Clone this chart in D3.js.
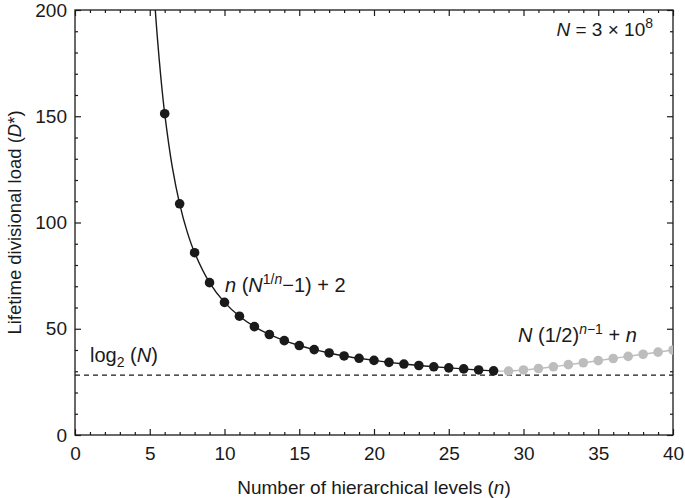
<!DOCTYPE html>
<html>
<head>
<meta charset="utf-8">
<script src="https://cdn.jsdelivr.net/npm/d3@7"></script>
<style>
  body { margin: 0; background: #fff; }
  svg text { font-family: "Liberation Sans", Arial, sans-serif; fill: #1a1a1a; }
</style>
</head>
<body>
<div id="chart"></div>
<script>
let width = 685;
let height = 498;
let margin = {top: 10, right: 12, bottom: 63, left: 75};

// hierarchical levels shown as black dots and their load
let blackN = [6, 7, 8, 9, 10, 11, 12, 13, 14, 15, 16, 17, 18, 19, 20, 21, 22, 23, 24, 25, 26, 27, 28];
let blackD = [151.2, 108.8, 85.8, 71.7, 62.4, 55.9, 51.0, 47.3, 44.4, 42.1, 40.2, 38.6, 37.2, 36.1,
              35.1, 34.2, 33.4, 32.7, 32.1, 31.6, 31.1, 30.6, 30.2];
// extra points for the smooth curve above n = 6
let curveN = [5.35, 5.5, 5.75, 6.5, 7.5];
let curveD = [202, 187.8, 167.7, 126.4, 95.7];

// grey dots
let greyN = [29, 30, 31, 32, 33, 34, 35, 36, 37, 38, 39, 40];
let greyD = [30.1, 30.6, 31.3, 32.1, 33.1, 34.0, 35.0, 36.0, 37.0, 38.0, 39.0, 40.0];

let log2N = 28.16;
let xTicks = [0, 5, 10, 15, 20, 25, 30, 35, 40];
let yTicks = [0, 50, 100, 150, 200];

let svg = d3.select("#chart").append("svg")
  .attr("width", width)
  .attr("height", height);

let x = d3.scaleLinear().domain([0, 40]).range([margin.left, width - margin.right]);
let y = d3.scaleLinear().domain([0, 200]).range([height - margin.bottom, margin.top]);

svg.append("clipPath").attr("id", "clip")
  .append("rect")
  .attr("x", x(0)).attr("y", y(200))
  .attr("width", x(40) - x(0)).attr("height", y(0) - y(200));

// frame
svg.append("rect")
  .attr("x", x(0)).attr("y", y(200))
  .attr("width", x(40) - x(0)).attr("height", y(0) - y(200))
  .attr("fill", "none").attr("stroke", "#1a1a1a").attr("stroke-width", 1.3);

// ticks on all four sides, pointing inward
function drawTicks(g, axis) {
  g.call(axis);
  g.select(".domain").remove();
  g.selectAll("line").attr("stroke", "#1a1a1a").attr("stroke-width", 1.2);
}
let minorX = d3.range(0, 41, 1).filter(d => d % 5 !== 0);
let minorY = d3.range(0, 201, 10).filter(d => d % 50 !== 0);

let axBottom = svg.append("g").attr("transform", "translate(0," + y(0) + ")");
drawTicks(axBottom.append("g"), d3.axisBottom(x).tickValues(xTicks).tickSize(-6).tickPadding(12));
drawTicks(axBottom.append("g"), d3.axisBottom(x).tickValues(minorX).tickSize(-3).tickFormat(""));
axBottom.selectAll("text").attr("font-size", 19).attr("dy", "0.71em");

let axTop = svg.append("g").attr("transform", "translate(0," + y(200) + ")");
drawTicks(axTop.append("g"), d3.axisTop(x).tickValues(xTicks).tickSize(-6).tickFormat(""));
drawTicks(axTop.append("g"), d3.axisTop(x).tickValues(minorX).tickSize(-3).tickFormat(""));

let axLeft = svg.append("g").attr("transform", "translate(" + x(0) + ",0)");
drawTicks(axLeft.append("g"), d3.axisLeft(y).tickValues(yTicks).tickSize(-6).tickPadding(8));
drawTicks(axLeft.append("g"), d3.axisLeft(y).tickValues(minorY).tickSize(-3).tickFormat(""));
axLeft.selectAll("text").attr("font-size", 19);

let axRight = svg.append("g").attr("transform", "translate(" + x(40) + ",0)");
drawTicks(axRight.append("g"), d3.axisRight(y).tickValues(yTicks).tickSize(-6).tickFormat(""));
drawTicks(axRight.append("g"), d3.axisRight(y).tickValues(minorY).tickSize(-3).tickFormat(""));

// log2(N) dashed line
svg.append("line")
  .attr("x1", x(0)).attr("x2", x(40))
  .attr("y1", y(log2N)).attr("y2", y(log2N))
  .attr("stroke", "#1a1a1a").attr("stroke-width", 1.3)
  .attr("stroke-dasharray", "5,4");

let plot = svg.append("g").attr("clip-path", "url(#clip)");

let line = d3.line()
  .x(d => x(d[0]))
  .y(d => y(d[1]))
  .curve(d3.curveCatmullRom);

let curvePts = blackN.map((n, i) => [n, blackD[i]])
  .concat(curveN.map((n, i) => [n, curveD[i]]))
  .sort((a, b) => a[0] - b[0]);

let greyPts = [[blackN[blackN.length - 1], blackD[blackD.length - 1]]]
  .concat(greyN.map((n, i) => [n, greyD[i]]));

plot.append("path").datum(greyPts)
  .attr("d", line).attr("fill", "none")
  .attr("stroke", "#bdbdbd").attr("stroke-width", 1.4);

plot.append("path").datum(curvePts)
  .attr("d", line).attr("fill", "none")
  .attr("stroke", "#1a1a1a").attr("stroke-width", 1.4);

plot.selectAll(".grey").data(greyN).enter().append("circle")
  .attr("cx", d => x(d))
  .attr("cy", (d, i) => y(greyD[i]))
  .attr("r", 4.8)
  .attr("fill", "#bdbdbd");

plot.selectAll(".black").data(blackN).enter().append("circle")
  .attr("cx", d => x(d))
  .attr("cy", (d, i) => y(blackD[i]))
  .attr("r", 4.8)
  .attr("fill", "#1a1a1a");

// axis titles
svg.append("text")
  .attr("x", (x(0) + x(40)) / 2).attr("y", 494)
  .attr("text-anchor", "middle").attr("font-size", 19)
  .html('Number of hierarchical levels (<tspan font-style="italic">n</tspan>)');

svg.append("text")
  .attr("transform", "translate(21," + ((y(0) + y(200)) / 2) + ") rotate(-90)")
  .attr("text-anchor", "middle").attr("font-size", 18.5)
  .html('Lifetime divisional load (<tspan font-style="italic">D</tspan>*)');

// annotations
svg.append("text")
  .attr("x", 653).attr("y", 36)
  .attr("text-anchor", "end").attr("font-size", 19)
  .html('<tspan font-style="italic">N</tspan> = 3 × 10<tspan font-size="14" dy="-8">8</tspan>');

svg.append("text")
  .attr("x", 225).attr("y", 292).attr("font-size", 20)
  .html('<tspan font-style="italic">n</tspan> (<tspan font-style="italic">N</tspan><tspan font-size="14" dy="-8">1/<tspan font-style="italic">n</tspan></tspan><tspan dy="8">−1) + 2</tspan>');

svg.append("text")
  .attr("x", 518).attr("y", 342).attr("font-size", 20)
  .html('<tspan font-style="italic">N</tspan> (1/2)<tspan font-size="14" dy="-8"><tspan font-style="italic">n</tspan>−1</tspan><tspan dy="8"> + </tspan><tspan font-style="italic">n</tspan>');

svg.append("text")
  .attr("x", 90).attr("y", 362).attr("font-size", 20)
  .html('log<tspan font-size="14" dy="5">2</tspan><tspan dy="-5"> (</tspan><tspan font-style="italic">N</tspan>)');
</script>
</body>
</html>
